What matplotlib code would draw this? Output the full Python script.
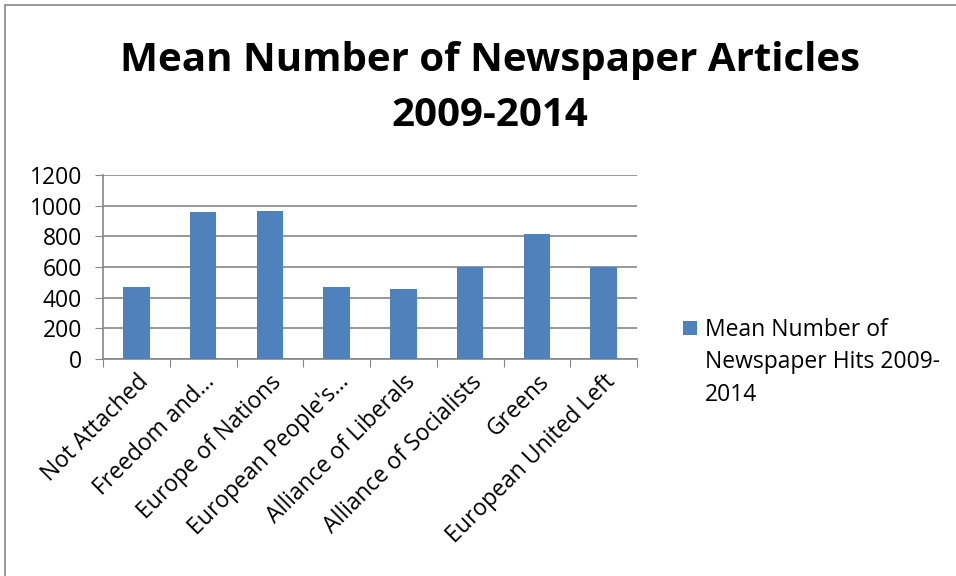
import matplotlib.pyplot as plt
import numpy as np
from matplotlib.patches import Rectangle

groups = ["Not Attached", "Freedom and…", "Europe of Nations", "European People's…",
          "Alliance of Liberals", "Alliance of Socialists", "Greens", "European United Left"]
hits = [472, 961, 966, 471, 456, 601, 812, 601]
series_lines = ["Mean Number of", "Newspaper Hits 2009-", "2014"]

plt.rcParams['font.family'] = ['Open Sans', 'DejaVu Sans']

fig = plt.figure(figsize=(9.56, 5.76), dpi=100)
ax = fig.add_axes([103 / 956, 1 - 359 / 576, 534 / 956, 184 / 576])

x = np.arange(len(groups))
ax.bar(x, hits, width=0.4, color="#4F81BD", zorder=3, label=series_lines[0])

ax.set_xlim(-0.5, len(groups) - 0.5)
ax.set_ylim(0, 1200)
ax.set_yticks(range(0, 1201, 200))
ax.grid(axis="y", color="#868686", linewidth=1.2, zorder=0)
ax.tick_params(axis="y", length=6, color="#868686", labelsize=16.5, pad=9)

# category separators as ticks, labels in the middle
ax.set_xticks(np.arange(-0.5, len(groups), 1))
ax.set_xticklabels([""] * (len(groups) + 1))
ax.tick_params(axis="x", length=6, color="#868686")
ax.set_xticks(x, minor=True)
ax.set_xticklabels(groups, minor=True, rotation=45, ha="right", rotation_mode="anchor", fontsize=16.5)
ax.tick_params(axis="x", which="minor", length=0, pad=8)

for s in ["top", "right"]:
    ax.spines[s].set_visible(False)
for s in ["left", "bottom"]:
    ax.spines[s].set_color("#868686")
    ax.spines[s].set_linewidth(1.2)

fig.text(490 / 956, 1 - 60 / 576, "Mean Number of Newspaper Articles", fontsize=29,
         fontweight="bold", ha="center", va="center")
fig.text(490 / 956, 1 - 116 / 576, "2009-2014", fontsize=29,
         fontweight="bold", ha="center", va="center")

leg = ax.legend(loc="center left", bbox_to_anchor=(683 / 956, 1 - 330 / 576), bbox_transform=fig.transFigure,
                frameon=False, fontsize=16.5, handlelength=0.62, handleheight=0.62, handletextpad=0.35,
                borderpad=0, borderaxespad=0)
fig.text(705 / 956, 1 - 362 / 576, series_lines[1], fontsize=16.5, ha="left", va="center")
fig.text(705 / 956, 1 - 395 / 576, series_lines[2], fontsize=16.5, ha="left", va="center")

fig.patches.append(Rectangle((5 / 956, -0.1), 1.2, 1 - 5 / 576 + 0.1, transform=fig.transFigure,
                             fill=False, edgecolor="#868686", linewidth=1.2))

fig.savefig("out.png", dpi=100)
